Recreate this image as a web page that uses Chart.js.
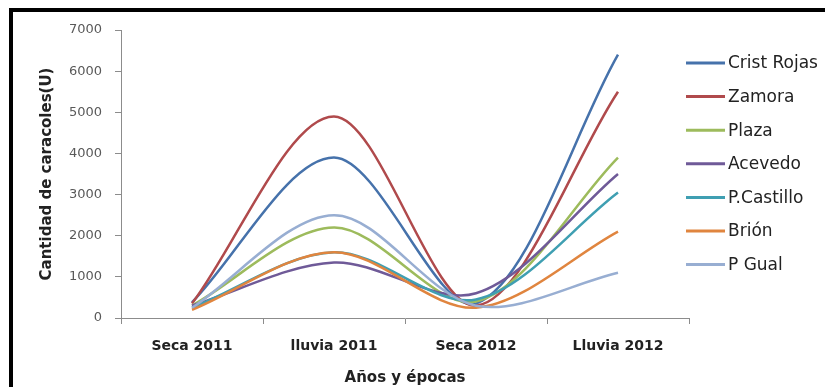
<!DOCTYPE html>
<html>
<head>
<meta charset="utf-8">
<script src="https://cdn.jsdelivr.net/npm/chart.js@4"></script>
<style>
  html, body { margin:0; padding:0; background:#fff; }
  #wrap { position:relative; width:825px; height:387px; overflow:hidden; }
  #frame { position:absolute; left:9px; top:8px; right:-10px; bottom:-10px;
           border-left:4px solid #000; border-top:4px solid #000; pointer-events:none; }
  canvas { position:absolute; left:0; top:0; }
</style>
</head>
<body>
<div id="wrap">
  <canvas id="chart" width="825" height="387"></canvas>
  <div id="frame"></div>
</div>
<script>
/* ── DATA ──────────────────────────────────────────────────── */
const seasons    = ['Seca 2011', 'lluvia 2011', 'Seca 2012', 'Lluvia 2012'];

const cristRojas = [380, 3900, 350, 6400];
const zamora     = [350, 4900, 300, 5500];
const plaza      = [300, 2200, 400, 3900];
const acevedo    = [300, 1350, 600, 3500];
const pCastillo  = [250, 1600, 450, 3050];
const brion      = [200, 1600, 250, 2100];
const pGual      = [250, 2500, 300, 1100];

const seriesNames  = ['Crist Rojas', 'Zamora', 'Plaza', 'Acevedo', 'P.Castillo', 'Brión', 'P Gual'];
const seriesValues = [cristRojas, zamora, plaza, acevedo, pCastillo, brion, pGual];
const seriesColors = ['#4672ab', '#b04a4c', '#9dbb5c', '#6f5a98', '#3f9fb2', '#e0853f', '#98aed2'];

const yTicks = [0, 1000, 2000, 3000, 4000, 5000, 6000, 7000];

/* ── LEGEND drawn to the right of the plot ─────────────────── */
const sideLegend = {
  id: 'sideLegend',
  afterDraw(chart) {
    const ctx = chart.ctx;
    const x0 = chart.chartArea.right - 3;
    ctx.save();
    ctx.font = '17px "DejaVu Sans"';
    ctx.textBaseline = 'middle';
    chart.data.datasets.forEach((ds, i) => {
      const y = 63 + i * 33.6;
      ctx.strokeStyle = ds.borderColor;
      ctx.lineWidth = 3;
      ctx.beginPath();
      ctx.moveTo(x0, y);
      ctx.lineTo(x0 + 39, y);
      ctx.stroke();
      ctx.fillStyle = '#222';
      ctx.fillText(ds.label, x0 + 42, y + 1);
    });
    ctx.restore();
  }
};

const datasets = seriesNames.map((name, i) => ({
  label: name,
  data: seriesValues[i],
  borderColor: seriesColors[i],
  backgroundColor: seriesColors[i],
  borderWidth: 2.5,
  pointRadius: 0,
  tension: 0.32,
  fill: false,
  order: seriesNames.length - i,
}));

new Chart(document.getElementById('chart').getContext('2d'), {
  type: 'line',
  data: { labels: seasons, datasets },
  options: {
    responsive: false, animation: false,
    layout: { padding: { left:0, right:136, top:30, bottom:0 } },
    plugins: { legend: { display:false }, tooltip: { enabled:false } },
    scales: {
      x: {
        offset: true,
        grid: { display:true, drawOnChartArea:false, drawTicks:true, tickLength:6, color:'#8c8c8c', offset:true },
        border: { display:true, color:'#8c8c8c', width:1 },
        ticks: { color:'#222', padding:14, font:{ family:'DejaVu Sans', size:14, weight:'bold' } },
        title: { display:true, text:'Años y épocas', color:'#222', padding:{ top:0, bottom:0 },
                 font:{ family:'DejaVu Sans', size:15, weight:'bold' } },
        afterFit: s => { s.height = 69; },
      },
      y: {
        min: 0, max: 7000,
        afterBuildTicks: s => { s.ticks = yTicks.map(v => ({ value: v })); },
        grid: { display:true, drawOnChartArea:false, drawTicks:true, tickLength:6, color:'#8c8c8c' },
        border: { display:true, color:'#8c8c8c', width:1 },
        ticks: { color:'#595959', padding:13, font:{ family:'DejaVu Sans', size:13 },
                 callback: v => String(v) },
        title: { display:true, text:'Cantidad de caracoles(U)', color:'#222', padding:{ top:38, bottom:0 },
                 font:{ family:'DejaVu Sans', size:15, weight:'bold' } },
        afterFit: s => { s.width = 121; },
      },
    },
  },
  plugins: [sideLegend],
});
</script>
</body>
</html>
